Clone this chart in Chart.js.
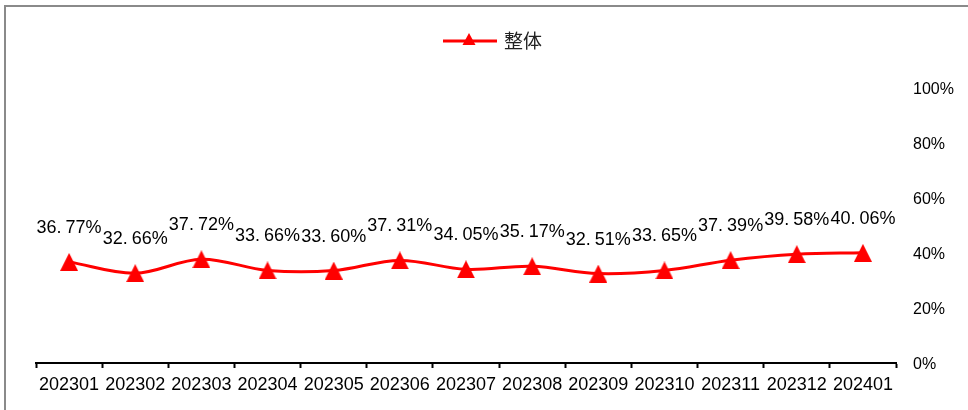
<!DOCTYPE html>
<html>
<head>
<meta charset="utf-8">
<script src="https://cdn.jsdelivr.net/npm/chart.js@4.4.1/dist/chart.umd.min.js"></script>
<style>
  html, body { margin: 0; padding: 0; background: #fff; }
  #wrap { width: 968px; height: 410px; position: relative; }
</style>
</head>
<body>
<div id="wrap"><canvas id="overallChart" width="968" height="410"></canvas></div>
<script>
// Monthly share, percent
var months = ['202301', '202302', '202303', '202304', '202305', '202306', '202307',
              '202308', '202309', '202310', '202311', '202312', '202401'];
var overall = [36.77, 32.66, 37.72, 33.66, 33.60, 37.31, 34.05, 35.17, 32.51, 33.65, 37.39, 39.58, 40.06];
var yTicks = [0, 20, 40, 60, 80, 100];
var seriesName = '整体';

var RED = '#ff0000';

// Triangle marker, 18x18
function makeTriangle(w, h) {
  var c = document.createElement('canvas');
  c.width = w;
  c.height = h;
  var g = c.getContext('2d');
  g.fillStyle = RED;
  g.beginPath();
  g.moveTo(w / 2, 0);
  g.lineTo(w, h);
  g.lineTo(0, h);
  g.closePath();
  g.fill();
  return c;
}
var triangleMarker = makeTriangle(18, 18);

// Grey frame around the whole figure
var framePlugin = {
  id: 'frame',
  beforeDraw: function (chart) {
    var ctx = chart.ctx;
    ctx.save();
    ctx.fillStyle = '#fff';
    ctx.fillRect(0, 0, chart.width, chart.height);
    ctx.strokeStyle = '#8a8a8a';
    ctx.lineWidth = 2;
    ctx.strokeRect(5, 6, chart.width + 20, chart.height + 20);
    ctx.restore();
  }
};

// Legend: short red line with a triangle, then the series name
var legendPlugin = {
  id: 'lineLegend',
  afterDraw: function (chart) {
    var ctx = chart.ctx;
    var cx = 469, cy = 41;
    ctx.save();
    ctx.strokeStyle = RED;
    ctx.lineWidth = 3;
    ctx.beginPath();
    ctx.moveTo(443, cy);
    ctx.lineTo(497, cy);
    ctx.stroke();
    ctx.fillStyle = RED;
    ctx.beginPath();
    ctx.moveTo(cx, cy - 8);
    ctx.lineTo(cx + 6.5, cy + 4);
    ctx.lineTo(cx - 6.5, cy + 4);
    ctx.closePath();
    ctx.fill();
    ctx.fillStyle = '#222';
    ctx.font = '19px "Noto Sans CJK SC"';
    ctx.textBaseline = 'middle';
    ctx.textAlign = 'left';
    ctx.fillText(seriesName, 504, cy);
    ctx.restore();
  }
};

// Value labels above each point, wide gap after the decimal point
var valueLabelPlugin = {
  id: 'valueLabels',
  afterDatasetsDraw: function (chart) {
    var ctx = chart.ctx;
    var meta = chart.getDatasetMeta(0);
    ctx.save();
    ctx.fillStyle = '#000';
    ctx.font = '18px "Liberation Sans"';
    ctx.textBaseline = 'middle';
    ctx.textAlign = 'left';
    meta.data.forEach(function (pt, i) {
      var parts = overall[i].toFixed(2).split('.');
      var head = parts[0] + '.';
      var tail = parts[1] + '%';
      var gap = 4;
      var hw = ctx.measureText(head).width;
      var w = hw + gap + ctx.measureText(tail).width;
      var x0 = pt.x - w / 2;
      var y = pt.y - 34;
      ctx.fillText(head, x0, y);
      ctx.fillText(tail, x0 + hw + gap, y);
    });
    ctx.restore();
  }
};

var ctx = document.getElementById('overallChart').getContext('2d');
var chart = new Chart(ctx, {
  type: 'line',
  data: {
    labels: months,
    datasets: [{
      label: seriesName,
      data: overall,
      borderColor: RED,
      backgroundColor: RED,
      borderWidth: 3,
      tension: 0.35,
      pointStyle: triangleMarker,
      pointRadius: 9,
      pointHoverRadius: 9
    }]
  },
  options: {
    responsive: false,
    animation: false,
    layout: { padding: { top: 88, left: 36, right: 0, bottom: 7 } },
    plugins: {
      legend: { display: false },
      tooltip: { enabled: false }
    },
    scales: {
      x: {
        offset: true,
        grid: {
          offset: true,
          drawOnChartArea: false,
          drawTicks: true,
          tickLength: 5,
          tickWidth: 2,
          tickColor: '#000'
        },
        border: { display: true, color: '#000', width: 2 },
        ticks: {
          color: '#000',
          font: { family: 'Liberation Sans', size: 18 },
          padding: 6,
          maxRotation: 0,
          autoSkip: false
        },
        afterFit: function (scale) { scale.height = 40; }
      },
      y: {
        position: 'right',
        min: 0,
        max: 100,
        grid: { display: false, drawTicks: false },
        border: { display: false },
        afterBuildTicks: function (scale) {
          scale.ticks = yTicks.map(function (v) { return { value: v }; });
        },
        ticks: {
          color: '#000',
          font: { family: 'Liberation Sans', size: 16 },
          padding: 17,
          labelOffset: 2,
          callback: function (v) { return v + '%'; }
        },
        afterFit: function (scale) { scale.width = 72; }
      }
    }
  },
  plugins: [framePlugin, legendPlugin, valueLabelPlugin]
});
</script>
</body>
</html>
